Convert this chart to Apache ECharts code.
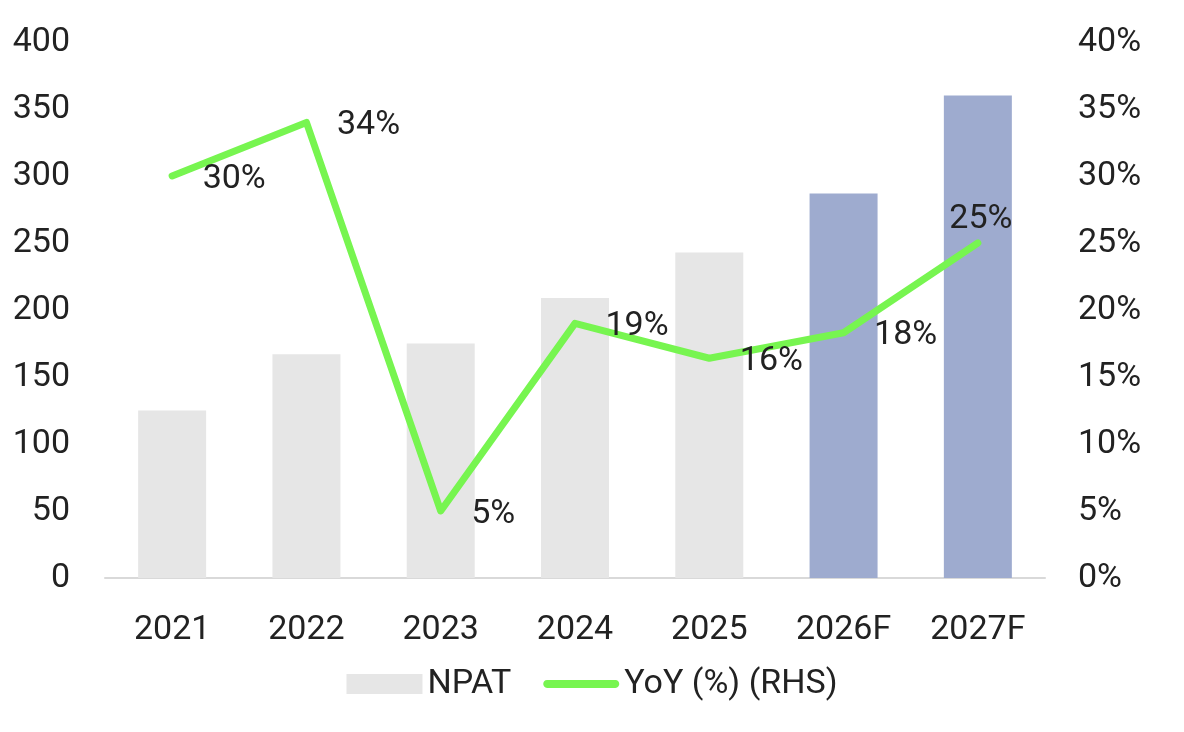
<!DOCTYPE html>
<html>
<head>
<meta charset="utf-8">
<script src="https://cdn.jsdelivr.net/npm/echarts@6/dist/echarts.min.js"></script>
<style>html,body{margin:0;padding:0;background:#fff}#c{width:1184px;height:732px}</style>
</head>
<body>
<div id="c"></div>
<script>
const categories = ['2021', '2022', '2023', '2024', '2025', '2026F', '2027F'];
const npat = [125, 167, 175, 209, 243, 287, 360];
const yoy = [30, 34, 5, 19, 16.4, 18.3, 25];
const yoyLabels = ['30%', '34%', '5%', '19%', '16%', '18%', '25%'];
const forecastFlags = [false, false, false, false, false, true, true];

const FONT = 'Roboto';
const TXT = '#222222';
const FS = 34;
const GREEN = '#77f550';
const chart = echarts.init(document.getElementById('c'), null, {renderer: 'canvas'});

const barData = npat.map((v, i) => ({
  value: v,
  itemStyle: {color: forecastFlags[i] ? '#9eabcf' : '#e6e6e6'}
}));
const lineData = yoy.map((v, i) => {
  const last = i === yoy.length - 1;
  return {
    value: v,
    label: last ? {position: 'top', distance: 6, offset: [3, 0]} : {position: 'right', distance: 30, offset: [0, 3]}
  };
});

chart.setOption({
  animation: false,
  textStyle: {fontFamily: FONT},
  grid: {left: 105, right: 139, top: 42, bottom: 154},
  legend: {
    bottom: 26,
    left: 'center',
    itemWidth: 76,
    itemHeight: 20,
    itemGap: 32,
    textStyle: {fontFamily: FONT, fontSize: FS, color: TXT},
    data: [
      {name: 'NPAT', icon: 'rect', itemStyle: {color: '#e6e6e6'}},
      {name: 'YoY (%) (RHS)', icon: 'path://M4,0 L74,0 C79.3,0 79.3,8 74,8 L4,8 C-1.3,8 -1.3,0 4,0 Z', itemStyle: {color: GREEN}}
    ]
  },
  xAxis: {
    type: 'category',
    data: categories,
    axisLine: {lineStyle: {color: '#d9d9d9', width: 2}},
    axisTick: {show: false},
    axisLabel: {fontFamily: FONT, fontSize: FS, color: TXT, margin: 35}
  },
  yAxis: [
    {
      type: 'value', min: 0, max: 400, interval: 50,
      splitLine: {show: false},
      axisLine: {show: false}, axisTick: {show: false},
      axisLabel: {fontFamily: FONT, fontSize: FS, color: TXT, margin: 35}
    },
    {
      type: 'value', min: 0, max: 40, interval: 5,
      splitLine: {show: false},
      axisLine: {show: false}, axisTick: {show: false},
      axisLabel: {fontFamily: FONT, fontSize: FS, color: TXT, margin: 33, formatter: '{value}%'}
    }
  ],
  series: [
    {
      name: 'NPAT',
      type: 'bar',
      data: barData,
      barWidth: 68,
      itemStyle: {color: '#e6e6e6'}
    },
    {
      name: 'YoY (%) (RHS)',
      type: 'line',
      yAxisIndex: 1,
      data: lineData,
      symbol: 'circle',
      symbolSize: 1,
      lineStyle: {color: GREEN, width: 7, cap: 'round', join: 'round'},
      itemStyle: {color: GREEN},
      label: {
        show: true,
        fontFamily: FONT,
        fontSize: FS,
        color: TXT,
        formatter: p => yoyLabels[p.dataIndex]
      }
    }
  ]
});
</script>
</body>
</html>
